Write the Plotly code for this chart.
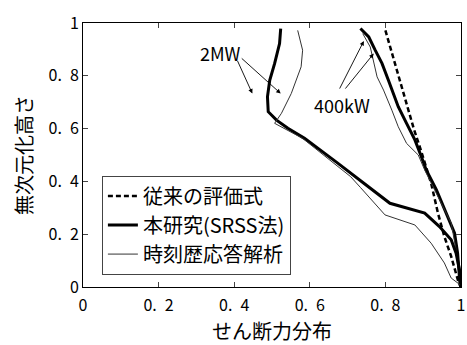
import plotly.graph_objects as go

# 従来の評価式 (dashed)
conv_x = [0.800, 0.835, 0.875, 0.895, 0.921, 0.939, 0.956, 0.974, 0.987, 0.994, 1.0]
conv_y = [0.972, 0.800, 0.600, 0.513, 0.393, 0.280, 0.191, 0.116, 0.053, 0.015, 0.0]

# 本研究(SRSS法) 400kW (thick)
srss400_x = [0.734, 0.756, 0.773, 0.791, 0.808, 0.826, 0.834, 0.856, 0.878, 0.895, 0.908, 0.935, 0.961, 0.983, 0.991, 0.997, 1.0]
srss400_y = [0.979, 0.947, 0.897, 0.847, 0.783, 0.714, 0.683, 0.620, 0.557, 0.494, 0.443, 0.368, 0.280, 0.204, 0.128, 0.015, 0.0]

# 本研究(SRSS法) 2MW (thick)
srss2_x = [0.523, 0.520, 0.507, 0.494, 0.488, 0.490, 0.512, 0.542, 0.586, 0.647, 0.673, 0.743, 0.812, 0.904, 0.943, 0.974, 0.987, 0.996, 1.0]
srss2_y = [0.979, 0.922, 0.847, 0.783, 0.720, 0.664, 0.632, 0.601, 0.563, 0.500, 0.470, 0.393, 0.317, 0.280, 0.229, 0.179, 0.128, 0.065, 0.0]

# 時刻歴応答解析 400kW (thin)
th400_x = [0.740, 0.760, 0.778, 0.795, 0.817, 0.834, 0.856, 0.887, 0.904, 0.943, 0.974, 0.987, 0.996, 1.0]
th400_y = [0.960, 0.909, 0.796, 0.746, 0.670, 0.607, 0.544, 0.500, 0.443, 0.330, 0.242, 0.141, 0.028, 0.0]

# 時刻歴応答解析 2MW (thin)
th2_x = [0.568, 0.581, 0.577, 0.551, 0.525, 0.507, 0.581, 0.647, 0.708, 0.734, 0.799, 0.878, 0.921, 0.956, 0.974, 0.997]
th2_y = [0.972, 0.897, 0.834, 0.733, 0.658, 0.620, 0.563, 0.488, 0.418, 0.377, 0.273, 0.235, 0.166, 0.091, 0.034, 0.009]

tick_vals = [0, 0.2, 0.4, 0.6, 0.8, 1]
tick_text = ["0", "0.\u20022", "0.\u20024", "0.\u20026", "0.\u20028", "1"]

FONT = "Noto Sans CJK JP"

fig = go.Figure()
fig.add_trace(go.Scatter(x=conv_x, y=conv_y, mode="lines", name="従来の評価式",
                         line=dict(color="black", width=2.5, dash="5px,3px")))
fig.add_trace(go.Scatter(x=srss400_x, y=srss400_y, mode="lines", name="本研究(SRSS法)",
                         line=dict(color="black", width=3), legendgroup="srss"))
fig.add_trace(go.Scatter(x=th400_x, y=th400_y, mode="lines", name="時刻歴応答解析",
                         line=dict(color="#333333", width=1), legendgroup="th"))
fig.add_trace(go.Scatter(x=srss2_x, y=srss2_y, mode="lines", showlegend=False,
                         line=dict(color="black", width=3), legendgroup="srss"))
fig.add_trace(go.Scatter(x=th2_x, y=th2_y, mode="lines", showlegend=False,
                         line=dict(color="#333333", width=1), legendgroup="th"))

arrows = [
    (0.448, 0.733, 0.407, 0.862),
    (0.523, 0.733, 0.416, 0.871),
    (0.743, 0.932, 0.677, 0.746),
    (0.769, 0.884, 0.691, 0.746),
]
for hx, hy, tx, ty in arrows:
    fig.add_annotation(x=hx, y=hy, ax=tx, ay=ty, xref="x", yref="y", axref="x", ayref="y",
                       text="", showarrow=True, arrowhead=2, arrowsize=1.0, arrowwidth=0.9,
                       arrowcolor="black")

fig.add_annotation(x=0.365, y=0.885, xref="x", yref="y", text="2MW", showarrow=False,
                   font=dict(family=FONT, size=18, color="black"))
fig.add_annotation(x=0.686, y=0.689, xref="x", yref="y", text="400kW", showarrow=False,
                   font=dict(family=FONT, size=18, color="black"))

axis_common = dict(range=[0, 1], tickvals=tick_vals, ticktext=tick_text, ticks="inside",
                   ticklen=5, tickwidth=1, tickcolor="#444", showline=True, linecolor="black",
                   linewidth=1, mirror="ticks", showgrid=False, zeroline=False,
                   ticklabeloverflow="allow",
                   tickfont=dict(family=FONT, size=16, color="black"))

fig.update_xaxes(**axis_common, ticklabelstandoff=4,
                 title=dict(text="せん断力分布", font=dict(family=FONT, size=20, color="black"), standoff=16))
fig.update_yaxes(**axis_common,
                 title=dict(text="無次元化高さ", font=dict(family=FONT, size=20, color="black"), standoff=10))

fig.update_layout(
    width=467, height=345,
    margin=dict(l=83, r=6, t=23, b=58, autoexpand=False),
    plot_bgcolor="white", paper_bgcolor="white",
    font=dict(family=FONT, color="black"),
    legend=dict(x=0.05, y=0.422, xanchor="left", yanchor="top", bgcolor="white",
                bordercolor="#444", borderwidth=1, font=dict(family=FONT, size=20, color="black"),
                tracegroupgap=0, itemwidth=30),
)

fig.write_html("out.html")
